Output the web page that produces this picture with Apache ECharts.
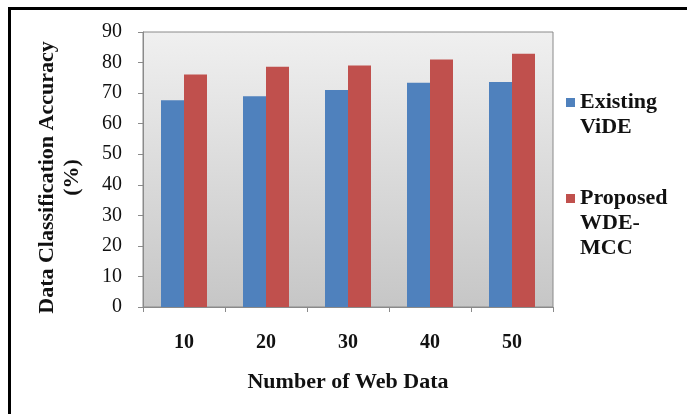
<!DOCTYPE html>
<html>
<head>
<meta charset="utf-8">
<script src="https://cdn.jsdelivr.net/npm/echarts@6/dist/echarts.min.js"></script>
<style>
  html, body { margin: 0; padding: 0; background: #fff; }
  #demo { width: 687px; height: 414px; }
</style>
</head>
<body>
<div id="demo"></div>
<script>
var categories = ['10', '20', '30', '40', '50'];
var existingVide = [67.7, 69.0, 71.0, 73.4, 73.6];
var proposedWdeMcc = [76.1, 78.6, 79.0, 81.0, 82.9];
var yTicks = [0, 10, 20, 30, 40, 50, 60, 70, 80, 90];

var font = 'Liberation Serif';

var option = {
    animation: false,
    backgroundColor: '#fff',
    graphic: [
        {
            type: 'rect',
            shape: { x: 9.5, y: 8.5, width: 700, height: 420 },
            style: { fill: 'none', stroke: '#000', lineWidth: 3 },
            silent: true
        }
    ],
    grid: {
        left: 143, top: 32, right: 134, bottom: 107,
        show: true,
        borderColor: '#8a8a8a',
        borderWidth: 1,
        backgroundColor: new echarts.graphic.LinearGradient(0, 0, 0, 1, [
            { offset: 0, color: '#f0f0f0' },
            { offset: 1, color: '#c6c6c6' }
        ])
    },
    legend: [
        {
            data: ['Existing ViDE'],
            orient: 'vertical',
            left: 566, top: 65,
            padding: 0,
            icon: 'rect', itemWidth: 9, itemHeight: 9, itemGap: 0,
            formatter: function () { return '\nExisting\nViDE'; },
            textStyle: { fontFamily: font, fontSize: 22, fontWeight: 'bold', color: '#111', lineHeight: 25 }
        },
        {
            data: ['Proposed WDE-MCC'],
            orient: 'vertical',
            left: 566, top: 136,
            padding: 0,
            icon: 'rect', itemWidth: 9, itemHeight: 9, itemGap: 0,
            formatter: function () { return '\n\nProposed\nWDE-\nMCC'; },
            textStyle: { fontFamily: font, fontSize: 22, fontWeight: 'bold', color: '#111', lineHeight: 25 }
        }
    ],
    xAxis: {
        type: 'category',
        data: categories,
        name: 'Number of Web Data',
        nameLocation: 'middle',
        nameGap: 64,
        nameTextStyle: { fontFamily: font, fontSize: 22, fontWeight: 'bold', color: '#111' },
        axisLine: { lineStyle: { color: '#8a8a8a' } },
        axisTick: { show: true, length: 5, lineStyle: { color: '#8a8a8a' } },
        axisLabel: { margin: 26, fontFamily: font, fontSize: 20, fontWeight: 'bold', color: '#111' }
    },
    yAxis: {
        type: 'value',
        min: yTicks[0],
        max: yTicks[yTicks.length - 1],
        interval: 10,
        name: 'Data Classification Accuracy\n(%)',
        nameLocation: 'middle',
        nameRotate: 90,
        nameGap: 58,
        nameTextStyle: {
            fontFamily: font, fontSize: 22, fontWeight: 'bold', color: '#111',
            lineHeight: 25, padding: [0, 16, 0, 0]
        },
        axisLine: { show: true, lineStyle: { color: '#8a8a8a' } },
        axisTick: { show: true, length: 5, lineStyle: { color: '#8a8a8a' } },
        splitLine: { show: false },
        axisLabel: { margin: 21, fontFamily: font, fontSize: 20, color: '#111' }
    },
    series: [
        {
            name: 'Existing ViDE',
            type: 'bar',
            data: existingVide,
            barWidth: 23,
            barGap: '0%',
            itemStyle: { color: '#4f81bd' }
        },
        {
            name: 'Proposed WDE-MCC',
            type: 'bar',
            data: proposedWdeMcc,
            barWidth: 23,
            barGap: '0%',
            itemStyle: { color: '#c0504d' }
        }
    ]
};

var myChart = echarts.init(document.getElementById('demo'));
myChart.setOption(option);
</script>
</body>
</html>
